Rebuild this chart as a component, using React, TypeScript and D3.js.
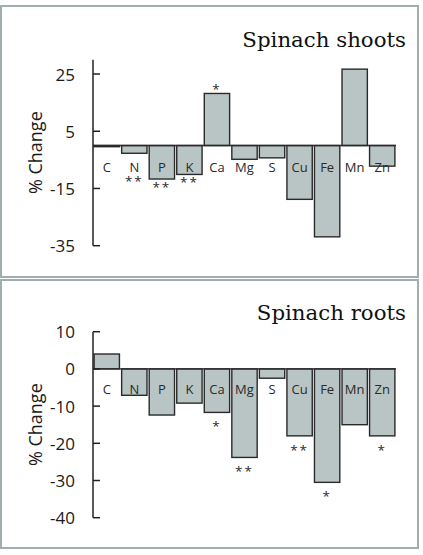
import React from "react";
import * as d3 from "d3";

// Elements measured in spinach tissue
const elements = ["C", "N", "P", "K", "Ca", "Mg", "S", "Cu", "Fe", "Mn", "Zn"];

// % change relative to control
const shootChange = [-0.4, -2.7, -11.7, -10.1, 18.2, -4.8, -4.3, -18.8, -31.9, 26.7, -7.2];
const rootChange = [4.0, -7.1, -12.4, -9.2, -11.7, -23.8, -2.5, -18.0, -30.5, -15.0, -18.0];

// Significance markers
const shootSig = ["", "**", "**", "**", "*", "", "", "", "", "", ""];
const rootSig = ["", "", "", "", "*", "**", "", "**", "*", "", "*"];

// Axis ticks
const shootTicks = [-35, -15, 5, 25];
const rootTicks = [-40, -30, -20, -10, 0, 10];

const W = 423;
const H = 555;
const SANS = "'Open Sans', 'Noto Sans', sans-serif";
const SERIF = "'DejaVu Serif', serif";
const BAR_FILL = "#b8c5c4";
const BAR_STROKE = "#2a2a2a";
const FRAME = "#a0aeb0";

type PanelProps = {
  title: string;
  values: number[];
  sig: string[];
  ticks: number[];
  domain: [number, number];
  yRange: [number, number];
  frame: [number, number];
  titleY: number;
  labelGap: number;
  sigGap: number;
};

function Panel({ title, values, sig, ticks, domain, yRange, frame, titleY, labelGap, sigGap }: PanelProps) {
  const x = d3.scaleBand<string>().domain(elements).range([93, 396]).paddingInner(0.08).paddingOuter(0.04);
  const y = d3.scaleLinear().domain(domain).range(yRange);
  const y0 = y(0);
  const axisX = 93;
  const labelY = y0 + labelGap;
  const midY = (yRange[0] + yRange[1]) / 2;

  return (
    <g>
      <rect x={1} y={frame[0]} width={417} height={frame[1] - frame[0]} fill="#fff" stroke={FRAME} strokeWidth={2} />
      <text x={406} y={titleY} textAnchor="end" fontFamily={SERIF} fontSize={21.3} fill="#111">
        {title}
      </text>
      {/* bar fills */}
      {values.map((v, i) => (
        <rect
          key={"f" + i}
          x={x(elements[i])}
          y={Math.min(y(v), y0)}
          width={x.bandwidth()}
          height={Math.abs(y(v) - y0)}
          fill={BAR_FILL}
        />
      ))}
      {/* category labels */}
      {elements.map((e) => (
        <text
          key={"l" + e}
          x={(x(e) as number) + x.bandwidth() / 2}
          y={labelY}
          textAnchor="middle"
          dominantBaseline="central"
          fontFamily={SANS}
          fontSize={13}
          fill="#2a2a2a"
        >
          {e}
        </text>
      ))}
      {/* bar outlines */}
      {values.map((v, i) => (
        <rect
          key={"o" + i}
          x={x(elements[i])}
          y={Math.min(y(v), y0)}
          width={x.bandwidth()}
          height={Math.abs(y(v) - y0)}
          fill="none"
          stroke={BAR_STROKE}
          strokeWidth={1.4}
        />
      ))}
      {/* significance markers */}
      {values.map((v, i) => {
        if (!sig[i]) return null;
        const cx = (x(elements[i]) as number) + x.bandwidth() / 2;
        const cy = v > 0 ? y(v) - 6 : Math.max(y(v), labelY + 6) + sigGap;
        return (
          <text
            key={"s" + i}
            x={cx}
            y={cy + 7}
            textAnchor="middle"
            fontFamily={SANS}
            fontSize={13.5}
            letterSpacing={2}
            fill="#2a2a2a"
          >
            {sig[i]}
          </text>
        );
      })}
      {/* zero line */}
      <line x1={axisX} x2={396} y1={y0} y2={y0} stroke={BAR_STROKE} strokeWidth={1.4} />
      {/* y axis */}
      <line x1={axisX} x2={axisX} y1={yRange[0]} y2={yRange[1]} stroke="#222" strokeWidth={1.5} />
      {ticks.map((t) => (
        <g key={"t" + t}>
          <line x1={axisX} x2={axisX + 7} y1={y(t)} y2={y(t)} stroke="#222" strokeWidth={1.5} />
          <text
            x={75}
            y={y(t)}
            textAnchor="end"
            dominantBaseline="central"
            fontFamily={SANS}
            fontSize={17}
            fill="#1a1a1a"
          >
            {t}
          </text>
        </g>
      ))}
      <text
        transform={`translate(35, ${midY}) rotate(-90)`}
        textAnchor="middle"
        dominantBaseline="central"
        fontFamily={SANS}
        fontSize={18}
        fill="#1a1a1a"
      >
        % Change
      </text>
    </g>
  );
}

export default function App() {
  return (
    <svg
      width={W}
      height={H}
      viewBox={`0 0 ${W} ${H}`}
      style={{ position: "absolute", left: 0, top: 0, background: "#fff" }}
    >
      <Panel
        title="Spinach shoots"
        values={shootChange}
        sig={shootSig}
        ticks={shootTicks}
        domain={[-35, 30]}
        yRange={[245.7, 59.7]}
        frame={[6, 277]}
        titleY={46.7}
        labelGap={21.5}
        sigGap={6}
      />
      <Panel
        title="Spinach roots"
        values={rootChange}
        sig={rootSig}
        ticks={rootTicks}
        domain={[-40, 10]}
        yRange={[517.7, 331.7]}
        frame={[280, 548]}
        titleY={320}
        labelGap={20}
        sigGap={12}
      />
    </svg>
  );
}
